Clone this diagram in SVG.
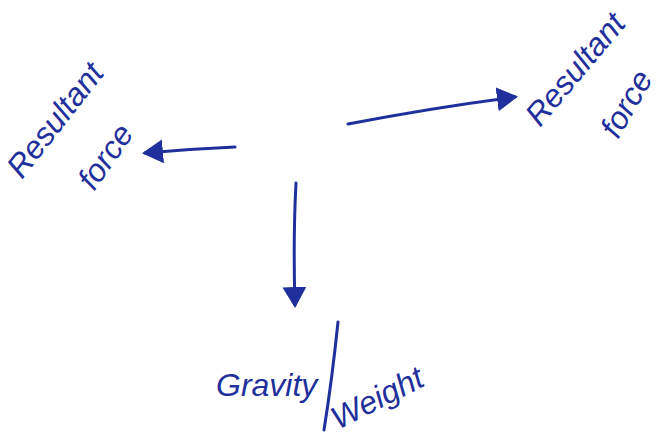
<svg xmlns="http://www.w3.org/2000/svg" width="664" height="438" viewBox="0 0 664 438">
<style>
.t{font-family:"Liberation Sans",Arial,sans-serif;font-style:italic;fill:#1f2f9c;font-size:32px}
.c{stroke:#1f2f9c;stroke-width:3;fill:none;stroke-linecap:round}
</style>
<defs>
<marker id="a" markerWidth="8" markerHeight="8" refX="6" refY="4" orient="auto" markerUnits="strokeWidth"><path d="M0,0 L7,4 L0,8 Z" fill="#1f2f9c"/></marker>
</defs>
<rect width="664" height="438" fill="#fff"/>
<g id="connectors">
<path class="c" d="M235,147 Q190,149 145,153" stroke-width="2.5" marker-end="url(#a)"/>
<path class="c" d="M348,124 Q430,108 515,97" marker-end="url(#a)"/>
<path class="c" d="M296,183 Q293,240 295,305" marker-end="url(#a)"/>
</g>
<g id="left-label">
<text class="t" font-size="36" transform="translate(22,180) rotate(-52)">Resultant</text>
<text class="t" font-size="34" transform="translate(94,192) rotate(-55)">force</text>
</g>
<g id="right-label">
<text class="t" font-size="35" transform="translate(540,128) rotate(-50)">Resultant</text>
<text class="t" font-size="31" transform="translate(618,140) rotate(-60)">force</text>
</g>
<g id="bottom-label">
<text class="t" x="216" y="396">Gravity</text>
<path class="c" d="M338,322 Q332,380 324,430" stroke-width="2"/>
<text class="t" transform="translate(338,430) rotate(-27)">Weight</text>
</g>
</svg>
